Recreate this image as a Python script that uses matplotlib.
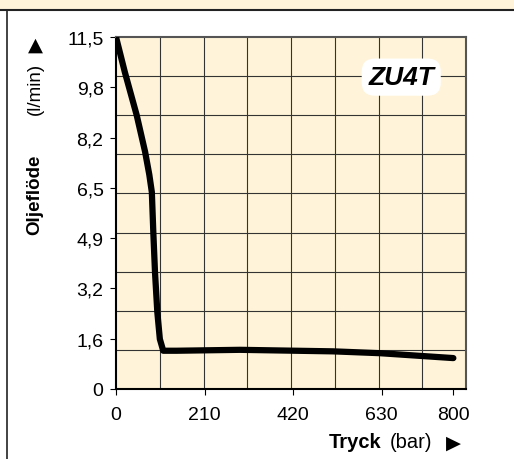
import matplotlib
matplotlib.use('Agg')
import matplotlib.pyplot as plt
from matplotlib.patches import Rectangle
from matplotlib.lines import Line2D

plt.rcParams['font.family'] = ['Liberation Sans', 'DejaVu Sans']

# Data
tryck = [0, 21, 49, 69, 79, 85, 88.5, 92.5, 98, 104, 112, 144, 294, 515, 626, 800]
oljeflode = [11.5, 10.35, 8.95, 7.75, 7.0, 6.43, 5.12, 3.81, 2.51, 1.63, 1.25,
             1.25, 1.28, 1.23, 1.17, 1.01]

x_ticks = [0, 210, 420, 630, 800]
y_ticks = [11.5 * i / 7 for i in range(8)]
y_labels = ['0', '1,6', '3,2', '4,9', '6,5', '8,2', '9,8', '11,5']

beige = '#fff4d9'

fig = plt.figure(figsize=(5.14, 4.6), dpi=100)

# top banner and left frame line
fig.patches.append(Rectangle((0, 1 - 11 / 460), 1, 11 / 460, transform=fig.transFigure,
                             facecolor=beige, edgecolor='none'))
fig.lines.append(Line2D([0, 1], [1 - 11 / 460] * 2, transform=fig.transFigure,
                        color='#222222', lw=1.5))
fig.lines.append(Line2D([7 / 514] * 2, [0, 1 - 11 / 460], transform=fig.transFigure,
                        color='#222222', lw=1.2))

ax = fig.add_axes([116 / 514, 70 / 460, 350 / 514, 352 / 460])
ax.set_facecolor(beige)
ax.set_xlim(0, 830)
ax.set_ylim(0, 11.5)

# background grid (independent of ticks)
for i in range(1, 8):
    ax.axvline(830 * i / 8, color='#333333', lw=0.8, zorder=1)
for i in range(1, 9):
    ax.axhline(11.5 * i / 9, color='#333333', lw=0.8, zorder=1)

ax.plot(tryck, oljeflode, color='black', lw=4.5, solid_capstyle='round',
        solid_joinstyle='round', zorder=3)

ax.set_xticks(x_ticks)
ax.set_xticklabels([str(v) for v in x_ticks])
ax.set_yticks(y_ticks)
ax.set_yticklabels(y_labels)
ax.tick_params(axis='both', labelsize=14, length=4, width=0.8, direction='out', pad=5)
ax.tick_params(axis='x', pad=8)

for side in ['top', 'right']:
    ax.spines[side].set_color('#555555')
    ax.spines[side].set_linewidth(1.5)
for side in ['left', 'bottom']:
    ax.spines[side].set_color('black')
    ax.spines[side].set_linewidth(1.5)

# ZU4T label
ax.text(0.815, 0.886, 'ZU4T', transform=ax.transAxes, ha='center', va='center',
        fontsize=19, fontweight='bold', fontstyle='italic', zorder=5,
        bbox=dict(boxstyle='round,pad=0.25,rounding_size=0.5', facecolor='white',
                  edgecolor='none'))

# axis labels
fig.text(35 / 514, 1 - 195 / 460, 'Oljeflöde', rotation=90, ha='center', va='center',
         fontsize=13.5, fontweight='bold')
fig.text(35 / 514, 1 - 89 / 460, '(l/min)', rotation=90, ha='center', va='center',
         fontsize=13.5)
fig.text(35 / 514, 1 - 45 / 460, '▲', ha='center', va='center',
         fontsize=14, family=['DejaVu Sans'])

fig.text(355 / 514, 1 - 443 / 460, 'Tryck', ha='center', va='center',
         fontsize=14.5, fontweight='bold')
fig.text(411 / 514, 1 - 443 / 460, '(bar)', ha='center', va='center', fontsize=14.5)
fig.text(453 / 514, 1 - 443 / 460, '▶', ha='center', va='center', fontsize=14,
         family=['DejaVu Sans'])

fig.savefig('out.png', dpi=100)
